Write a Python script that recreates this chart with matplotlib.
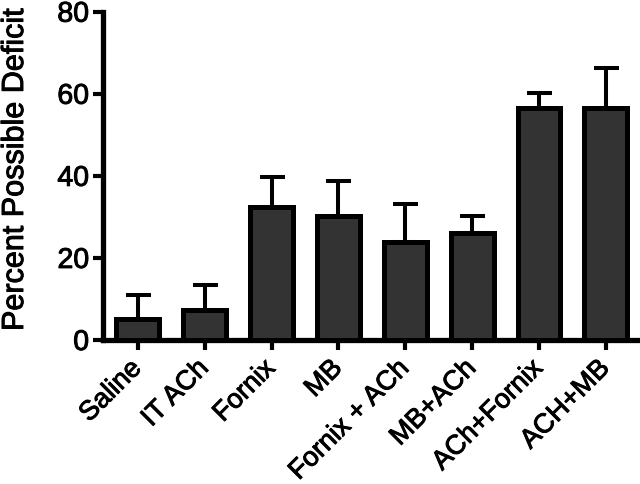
import matplotlib
matplotlib.use("Agg")
import matplotlib.pyplot as plt
import matplotlib.patheffects as pe
import numpy as np

categories = ["Saline", "IT ACh", "Fornix", "MB", "Fornix + ACh", "MB+ACh", "ACh+Fornix", "ACH+MB"]
means = [5.0, 7.3, 32.3, 30.3, 24.0, 26.0, 56.5, 56.5]
errors = [6.0, 6.0, 7.5, 8.5, 9.2, 4.2, 3.6, 9.8]
yticks = [0, 20, 40, 60, 80]

plt.rcParams['font.family'] = ['Liberation Sans', 'DejaVu Sans']
bold = [pe.withStroke(linewidth=0.7, foreground='black')]

fig = plt.figure(figsize=(6.4, 4.84), dpi=100)
ax = fig.add_axes([103/640, 1-340/484, 1-103/640, (340-11.7)/484])

x = np.arange(len(categories))
ax.bar(x, means, width=0.64, color='#333333', edgecolor='black', linewidth=3.6, zorder=3)
ax.errorbar(x, means, yerr=[np.zeros(len(errors)), errors], fmt='none', ecolor='black',
            elinewidth=2.9, capsize=9, capthick=2.9, zorder=2)

ax.set_xlim(-0.52, 7.51)
ax.set_ylim(0, 80)
ax.set_yticks(yticks)
ax.set_xticks(x)
ax.set_xticklabels(categories, rotation=45, ha='right', va='center', rotation_mode='anchor',
                   fontsize=19.5)
ax.tick_params(axis='y', labelsize=20.5, width=3, length=7, pad=3)
ax.tick_params(axis='x', width=3, length=7, pad=10.5)
for lab in ax.get_xticklabels() + ax.get_yticklabels():
    lab.set_path_effects(bold)
for s in ['top', 'right']:
    ax.spines[s].set_visible(False)
for s in ['left', 'bottom']:
    ax.spines[s].set_linewidth(3.8)
fig.text(0/640, 1-331/484, "Percent Possible Deficit", rotation=90, fontsize=22,
         ha='left', va='bottom', path_effects=bold)

fig.savefig("out.png", dpi=100)
